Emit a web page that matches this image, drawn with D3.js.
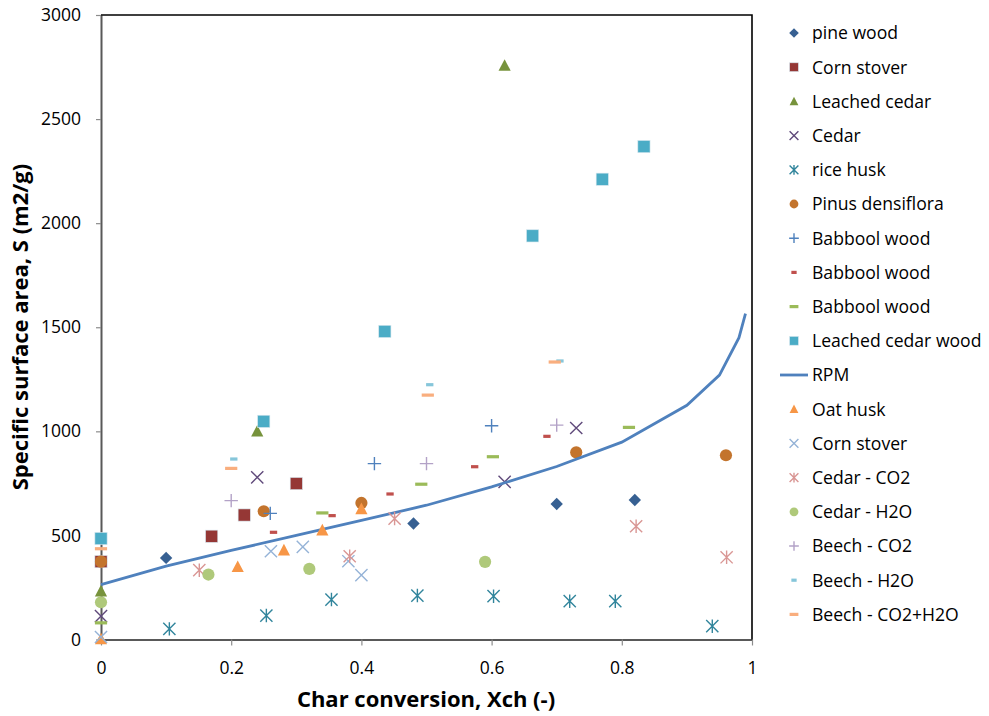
<!DOCTYPE html>
<html>
<head>
<meta charset="utf-8">
<script src="https://cdnjs.cloudflare.com/ajax/libs/d3/7.8.5/d3.min.js"></script>
<style>
  body { margin: 0; background: #fff; }
  text { font-family: "Open Sans", sans-serif; fill: #000; }
</style>
</head>
<body>
<div id="chart"></div>
<script>
var width = 989,
    height = 716;

// data: [char conversion, surface area]
var pineWood = [[0.10, 392], [0.48, 557], [0.70, 651], [0.82, 670]];
var cornStover = [[0, 374], [0.17, 496], [0.22, 598], [0.30, 749]];
var leachedCedar = [[0, 232], [0.24, 1000], [0.62, 2757]];
var cedar = [[0, 112], [0.24, 779], [0.62, 757], [0.73, 1016]];
var riceHusk = [[0.105, 51], [0.254, 115], [0.354, 192], [0.486, 211], [0.603, 208], [0.72, 184], [0.79, 184], [0.939, 64]];
var pinusDensiflora = [[0, 374], [0.25, 616], [0.40, 656], [0.73, 899], [0.96, 885]];
var babboolPlus = [[0.26, 606], [0.42, 845], [0.60, 1027]];
var babboolRed = [[0.265, 515], [0.355, 595], [0.444, 699], [0.574, 830], [0.685, 976]];
var babboolGreen = [[0, 80], [0.34, 608], [0.492, 746], [0.602, 878], [0.811, 1019]];
var leachedCedarWood = [[0, 485], [0.25, 1048], [0.436, 1480], [0.663, 1939], [0.77, 2211], [0.834, 2368]];
var rpm = [[0, 264], [0.1, 352], [0.2, 428], [0.3, 500], [0.4, 572], [0.5, 645], [0.6, 733], [0.7, 831], [0.8, 948], [0.9, 1125], [0.95, 1270], [0.98, 1450], [0.99, 1565]];
var oatHusk = [[0, 2], [0.21, 349], [0.281, 429], [0.34, 525], [0.40, 627]];
var cornStoverX = [[0, 12], [0.261, 424], [0.31, 445], [0.38, 376], [0.40, 309]];
var cedarCO2 = [[0.151, 333], [0.382, 400], [0.451, 581], [0.822, 544], [0.961, 395]];
var cedarH2O = [[0, 179], [0.165, 312], [0.32, 339], [0.59, 373]];
var beechCO2 = [[0.20, 667], [0.50, 845], [0.70, 1030]];
var beechH2O = [[0.204, 867], [0.505, 1224], [0.705, 1338]];
var beechCO2H2O = [[0, 436], [0.20, 822], [0.502, 1174], [0.697, 1333]];

var xTicks = [0, 0.2, 0.4, 0.6, 0.8, 1];
var yTicks = [0, 500, 1000, 1500, 2000, 2500, 3000];

var series = [
  {name: "pine wood", data: pineWood, type: "diamond", color: "#376092"},
  {name: "Corn stover", data: cornStover, type: "square", color: "#953735"},
  {name: "Leached cedar", data: leachedCedar, type: "triangle", color: "#77933C"},
  {name: "Cedar", data: cedar, type: "x", color: "#604A7B"},
  {name: "rice husk", data: riceHusk, type: "asterisk", color: "#31859C"},
  {name: "Pinus densiflora", data: pinusDensiflora, type: "circle", color: "#C3742D"},
  {name: "Babbool wood", data: babboolPlus, type: "plus", color: "#4F81BD"},
  {name: "Babbool wood", data: babboolRed, type: "dashShort", color: "#C0504D"},
  {name: "Babbool wood", data: babboolGreen, type: "dash", color: "#9BBB59"},
  {name: "Leached cedar wood", data: leachedCedarWood, type: "square", color: "#4BACC6"},
  {name: "RPM", data: rpm, type: "line", color: "#4F81BD"},
  {name: "Oat husk", data: oatHusk, type: "triangle", color: "#F79646"},
  {name: "Corn stover", data: cornStoverX, type: "x", color: "#95B3D7"},
  {name: "Cedar - CO2", data: cedarCO2, type: "asterisk", color: "#D99694"},
  {name: "Cedar - H2O", data: cedarH2O, type: "circle", color: "#AFC97A"},
  {name: "Beech - CO2", data: beechCO2, type: "plus", color: "#B3A2C7"},
  {name: "Beech - H2O", data: beechH2O, type: "dashShort", color: "#86C6DA"},
  {name: "Beech - CO2+H2O", data: beechCO2H2O, type: "dash", color: "#F9AE7E"}
];

var x = d3.scaleLinear().domain([0, 1]).range([101, 752]);
var y = d3.scaleLinear().domain([0, 3000]).range([639.5, 15]);

var svg = d3.select('#chart').append('svg')
  .attr('width', width)
  .attr('height', height);

// draws one marker centred at 0,0 inside g
function marker(g, type, s, color) {
  if (type == "diamond") {
    g.append("path").attr("d", "M0," + (-s) + "L" + s + ",0L0," + s + "L" + (-s) + ",0Z").attr("fill", color);
  } else if (type == "square") {
    g.append("rect").attr("x", -s).attr("y", -s).attr("width", 2 * s).attr("height", 2 * s)
      .attr("fill", color).attr("stroke", "#d6e6ee").attr("stroke-width", 0.6);
  } else if (type == "triangle") {
    g.append("path").attr("d", "M0," + (-s * 1.05) + "L" + s + "," + (s * 0.85) + "L" + (-s) + "," + (s * 0.85) + "Z").attr("fill", color);
  } else if (type == "circle") {
    g.append("circle").attr("r", s).attr("fill", color);
  } else if (type == "x" || type == "asterisk") {
    var p = "M" + (-s) + "," + (-s) + "L" + s + "," + s + "M" + s + "," + (-s) + "L" + (-s) + "," + s;
    if (type == "asterisk") p += "M0," + (-s * 1.1) + "L0," + (s * 1.1);
    g.append("path").attr("d", p).attr("stroke", color).attr("stroke-width", 1.4).attr("fill", "none");
  } else if (type == "plus") {
    g.append("path").attr("d", "M" + (-s * 1.1) + ",0L" + (s * 1.1) + ",0M0," + (-s * 1.1) + "L0," + (s * 1.1))
      .attr("stroke", color).attr("stroke-width", 1.4).attr("fill", "none");
  } else if (type == "dash") {
    g.append("rect").attr("x", -s).attr("y", -1.6).attr("width", 2 * s).attr("height", 3.2).attr("fill", color);
  } else if (type == "dashShort") {
    g.append("rect").attr("x", -s * 0.6).attr("y", -1.6).attr("width", 1.2 * s).attr("height", 3.2).attr("fill", color);
  }
}

// axes
var xAxis = d3.axisBottom(x).tickValues(xTicks).tickSize(6).tickSizeOuter(0).tickPadding(16)
  .tickFormat(function(d) { return d3.format("~g")(d); });
var yAxis = d3.axisLeft(y).tickValues(yTicks).tickSize(5).tickSizeOuter(0).tickPadding(15)
  .tickFormat(function(d) { return String(d); });

var gx = svg.append("g").attr("transform", "translate(0," + y(0) + ")").call(xAxis);
var gy = svg.append("g").attr("transform", "translate(" + x(0) + ",0)").call(yAxis);

[gx, gy].forEach(function(g) {
  g.select(".domain").attr("stroke", "#595959").attr("stroke-width", 2);
  g.selectAll(".tick line").attr("stroke", "#8c8c8c").attr("stroke-width", 1.2);
  g.selectAll(".tick text").style("font-size", "17.5px").attr("fill", "#000");
});

// top and right frame
svg.append("path")
  .attr("d", "M" + x(0) + "," + y(3000) + "H" + x(1) + "V" + y(0))
  .attr("fill", "none").attr("stroke", "#000").attr("stroke-width", 1.6);

// series
var plot = svg.append("g");
var line = d3.line().x(function(d) { return x(d[0]); }).y(function(d) { return y(d[1]); });

series.forEach(function(s) {
  if (s.type == "line") {
    plot.append("path").datum(s.data).attr("d", line)
      .attr("fill", "none").attr("stroke", s.color).attr("stroke-width", 2.8);
    return;
  }
  plot.selectAll(null).data(s.data).enter().append("g")
    .attr("transform", function(d) { return "translate(" + x(d[0]) + "," + y(d[1]) + ")"; })
    .each(function() { marker(d3.select(this), s.type, s.type == "diamond" ? 6.2 : 6.1, s.color); });
});

// legend
var legend = svg.append("g");
series.forEach(function(s, i) {
  var ly = 33 + i * 34.2;
  var g = legend.append("g").attr("transform", "translate(794," + ly + ")");
  if (s.type == "line") {
    g.append("line").attr("x1", -14).attr("x2", 14).attr("stroke", s.color).attr("stroke-width", 2.8);
  } else {
    marker(g, s.type, s.type == "diamond" ? 4.8 : 4.4, s.color);
  }
  legend.append("text").attr("x", 812).attr("y", ly).attr("dy", "0.36em")
    .style("font-size", "17.6px").text(s.name);
});

// axis titles
svg.append("text").attr("x", 426).attr("y", 707).attr("text-anchor", "middle")
  .style("font-size", "22px").style("font-weight", "bold").text("Char conversion, Xch (-)");
svg.append("text").attr("transform", "translate(28,327) rotate(-90)").attr("text-anchor", "middle")
  .style("font-size", "22px").style("font-weight", "bold").text("Specific surface area, S (m2/g)");
</script>
</body>
</html>
